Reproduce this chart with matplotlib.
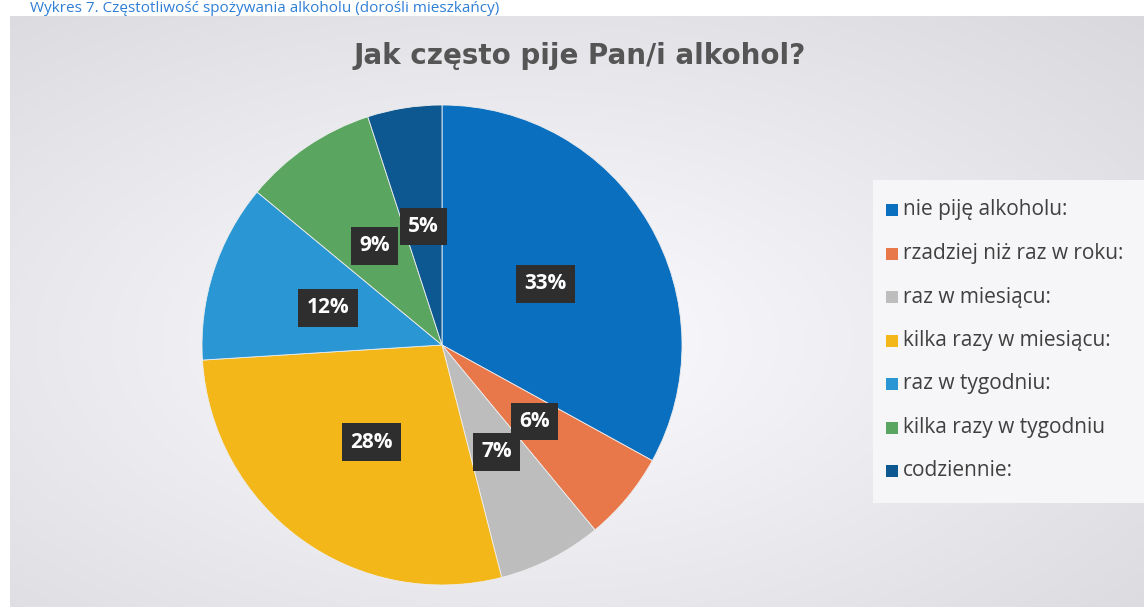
import numpy as np
import matplotlib
matplotlib.use("Agg")
import matplotlib.pyplot as plt
from matplotlib.patches import Rectangle

categories = ["nie piję alkoholu:", "rzadziej niż raz w roku:", "raz w miesiącu:",
              "kilka razy w miesiącu:", "raz w tygodniu:", "kilka razy w tygodniu",
              "codziennie:"]
values = [33, 6, 7, 28, 12, 9, 5]
colors = ["#0b6fbf", "#e8774a", "#bdbdbd", "#f4b71a", "#2a97d4", "#5aa660", "#0d5891"]
title = "Jak często pije Pan/i alkohol?"
caption = "Wykres 7. Częstotliwość spożywania alkoholu (dorośli mieszkańcy)"

W, H = 1144, 607
fig = plt.figure(figsize=(W / 100, H / 100), dpi=100)
fig.patch.set_facecolor("white")

# background panel with soft radial gradient
top = 16
bg = fig.add_axes([10 / W, 0, 1 - 10 / W, 1 - top / H])
bg.set_axis_off()
yy, xx = np.mgrid[0:1:200j, 0:1:400j]
d = np.sqrt(((xx - 0.45) / 0.75) ** 2 + ((yy - 0.55) / 0.75) ** 2)
g = np.clip(0.985 - 0.13 * d, 0.84, 0.985)
img = np.dstack([g, g, g * 1.015 + 0.005])
img = np.clip(img, 0, 1)
bg.imshow(img, aspect="auto", extent=[0, 1, 0, 1])
bg.set_xlim(0, 1)
bg.set_ylim(0, 1)

fig.text(30 / W, 1 - 1 / H, caption, color="#2f7fd6", fontsize=11,
         fontfamily="Open Sans", va="top", ha="left")

fig.text(580 / W, 1 - 56 / H, title, color="#555555", fontsize=20,
         fontweight="bold", fontfamily="DejaVu Sans", ha="center", va="center")

# pie
cx, cy, r = 442, 345, 240
ax = fig.add_axes([(cx - r) / W, 1 - (cy + r) / H, 2 * r / W, 2 * r / H])
wedges, _ = ax.pie(values, colors=colors, startangle=90, counterclock=False,
                   wedgeprops=dict(linewidth=0.6, edgecolor="#eeeeee"))
ax.set_xlim(-1, 1)
ax.set_ylim(-1, 1)
ax.set_aspect("equal")
for w, v in zip(wedges, values):
    ang = np.deg2rad((w.theta1 + w.theta2) / 2)
    x, y = 0.5 * np.cos(ang), 0.5 * np.sin(ang)
    ax.text(x, y, f"{v}%", ha="center", va="center", color="white",
            fontsize=15, fontweight="bold", fontfamily="Open Sans",
            bbox=dict(boxstyle="square,pad=0.4", facecolor="#2e2e2e", edgecolor="none"))

# legend box
lax = fig.add_axes([873 / W, 1 - 503 / H, (W - 873) / W, 323 / H])
lax.set_axis_off()
lax.set_xlim(873, W)
lax.set_ylim(503, 180)
lax.add_patch(Rectangle((873, 180), W - 873, 323, facecolor="#f6f6f8", edgecolor="none"))
for i, (c, lab) in enumerate(zip(colors, categories)):
    y = 210 + i * 43.5
    lax.add_patch(Rectangle((886, y - 6), 12, 12, facecolor=c, edgecolor="none"))
    lax.text(903, y, lab, color="#404040", fontsize=15, fontfamily="Open Sans",
             va="center", ha="left")

fig.savefig("out.png", dpi=100, facecolor=fig.get_facecolor())
